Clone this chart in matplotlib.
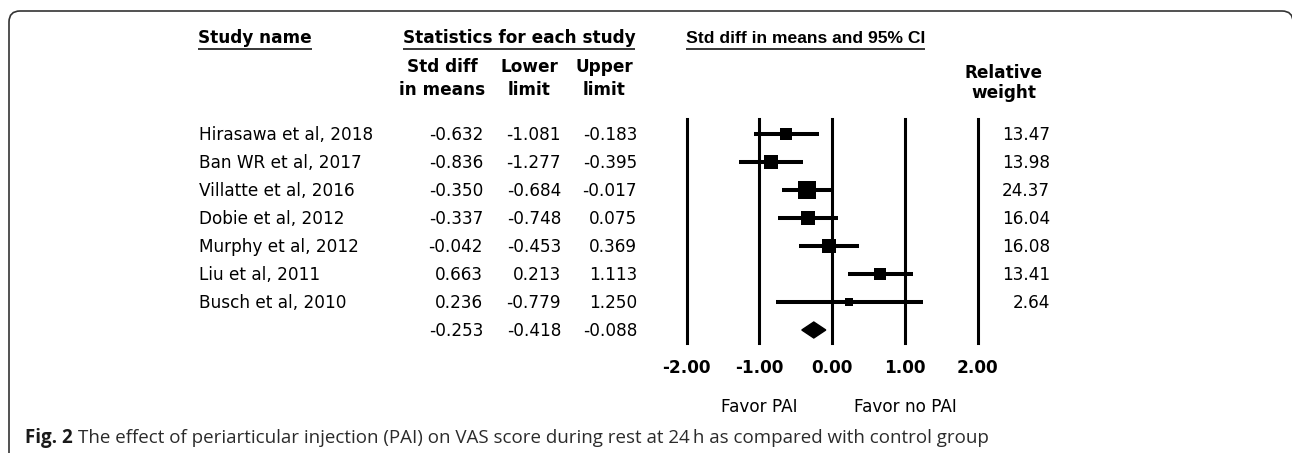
import matplotlib
matplotlib.use("Agg")
import matplotlib.pyplot as plt
from matplotlib.path import Path
from matplotlib.patches import PathPatch, Polygon
from matplotlib.transforms import blended_transform_factory
import numpy as np

# ---------------- data ----------------
studies = ["Hirasawa et al, 2018", "Ban WR et al, 2017", "Villatte et al, 2016",
           "Dobie et al, 2012", "Murphy et al, 2012", "Liu et al, 2011",
           "Busch et al, 2010"]
smd = [-0.632, -0.836, -0.350, -0.337, -0.042, 0.663, 0.236]
lower = [-1.081, -1.277, -0.684, -0.748, -0.453, 0.213, -0.779]
upper = [-0.183, -0.395, -0.017, 0.075, 0.369, 1.113, 1.250]
weights = [13.47, 13.98, 24.37, 16.04, 16.08, 13.41, 2.64]
summary = [-0.253, -0.418, -0.088]  # estimate, lower, upper
xticks = [-2, -1, 0, 1, 2]
xticklabels = ["-2.00", "-1.00", "0.00", "1.00", "2.00"]
favor_labels = ["Favor PAI", "Favor no PAI"]
caption_bold = "Fig. 2"
caption_text = ("The effect of periarticular injection (PAI) on VAS score during "
                "rest at 24\u2009h as compared with control group")

# ---------------- figure ----------------
W, H = 1292, 453
fig = plt.figure(figsize=(W / 100, H / 100), dpi=100)
bg = fig.add_axes([0, 0, 1, 1])
bg.set_xlim(0, W)
bg.set_ylim(H, 0)
bg.axis("off")

FONT = "DejaVu Sans"
FS = 12.2
TXT = dict(family=FONT, fontsize=FS, color="black")

# forest plot axes: x=-2 at px 686.7, x=2 at px 977.7 ; rows at px 134 + 28*i
xl_px, xr_px = 686.7, 977.7
top_px, bot_px = 119.3, 343.3
ax = fig.add_axes([xl_px / W, 1 - bot_px / H, (xr_px - xl_px) / W, (bot_px - top_px) / H])
ax.set_xlim(-2, 2)
ax.set_ylim(7.475, -0.525)
ax.axis("off")

for xv in xticks:
    ax.axvline(xv, color="black", lw=2.2, zorder=1, clip_on=False)

rows = np.arange(len(studies))
ax.hlines(rows, lower, upper, color="black", lw=2.9, zorder=2, clip_on=False)
sizes = 3.5 * np.sqrt(np.array(weights)) * 0.72
sizes = np.maximum(sizes, 5.8)
for r, m, s in zip(rows, smd, sizes):
    ax.plot([m], [r], marker="s", ms=s, color="black", mec="black", mew=0,
            zorder=3, clip_on=False)

srow = len(studies)
half_h = 8 / 28
diamond = Polygon([[summary[1], srow], [summary[0], srow - half_h],
                   [summary[2], srow], [summary[0], srow + half_h]],
                  closed=True, color="black", zorder=3, clip_on=False)
ax.add_patch(diamond)

# tick labels & favour labels under the plot (x in data, y in px)
tx = blended_transform_factory(ax.transData, bg.transData)
for xv, lab in zip(xticks, xticklabels):
    bg.text(xv, 373, lab, transform=tx, ha="center", va="baseline",
            fontweight="bold", **TXT)
bg.text(-1, 411.5, favor_labels[0], transform=tx, ha="center", va="baseline", **TXT)
bg.text(1, 411.5, favor_labels[1], transform=tx, ha="center", va="baseline", **TXT)

# ---------------- table text ----------------
ty = blended_transform_factory(bg.transData, ax.transData)
base_off = 6 / 28  # baseline below row centre
for r, name, m, lo, up, w in zip(rows, studies, smd, lower, upper, weights):
    yb = r + base_off
    bg.text(199, yb, name, transform=ty, ha="left", va="baseline", **TXT)
    bg.text(483, yb, f"{m:.3f}", transform=ty, ha="right", va="baseline", **TXT)
    bg.text(561, yb, f"{lo:.3f}", transform=ty, ha="right", va="baseline", **TXT)
    bg.text(637, yb, f"{up:.3f}", transform=ty, ha="right", va="baseline", **TXT)
    bg.text(1050, yb, f"{w:.2f}", transform=ty, ha="right", va="baseline", **TXT)
yb = srow + base_off
for xr, v in zip([483, 561, 637], summary):
    bg.text(xr, yb, f"{v:.3f}", transform=ty, ha="right", va="baseline", **TXT)

# headers
h1 = bg.text(198, 43, "Study name", ha="left", va="baseline", fontweight="bold", **TXT)
h2 = bg.text(519, 43, "Statistics for each study", ha="center", va="baseline", fontweight="bold", **TXT)
h3 = bg.text(686, 43, "Std diff in means and 95% CI", ha="left", va="baseline",
             fontweight="bold", family="Liberation Sans", fontsize=12.6, color="black")
for x, l1, l2 in [(442, "Std diff", "in means"), (529, "Lower", "limit"), (604, "Upper", "limit")]:
    bg.text(x, 72, l1, ha="center", va="baseline", fontweight="bold", **TXT)
    bg.text(x, 95, l2, ha="center", va="baseline", fontweight="bold", **TXT)
bg.text(1004, 78, "Relative", ha="center", va="baseline", fontweight="bold", **TXT)
bg.text(1004, 98, "weight", ha="center", va="baseline", fontweight="bold", **TXT)

# caption
CAP = dict(family=["Open Sans", "DejaVu Sans"], fontsize=13.5)
cb = bg.text(25, 443, caption_bold, ha="left", va="baseline", fontweight="bold",
             color="#1a1a1a", **CAP)

fig.canvas.draw()
rend = fig.canvas.get_renderer()
for h in (h1, h2, h3):
    bb = h.get_window_extent(rend)
    bg.plot([bb.x0, bb.x1], [49.3, 49.3], color="black", lw=1.1, solid_capstyle="butt")
bb = cb.get_window_extent(rend)
bg.text(bb.x1 + 5, 443, caption_text, ha="left", va="baseline", color="#2b2b2b", **CAP)

# rounded frame (left, top, top-right corner)
r = 11
verts = [(9, 455), (9, 11 + r), (9, 11), (9 + r, 11), (1293 - r, 11), (1293, 11), (1293, 11 + r), (1293, 455)]
codes = [Path.MOVETO, Path.LINETO, Path.CURVE3, Path.CURVE3, Path.LINETO, Path.CURVE3, Path.CURVE3, Path.LINETO]
bg.add_patch(PathPatch(Path(verts, codes), fill=False, edgecolor="#333333", lw=1.2))

fig.savefig("out.png", dpi=100)
